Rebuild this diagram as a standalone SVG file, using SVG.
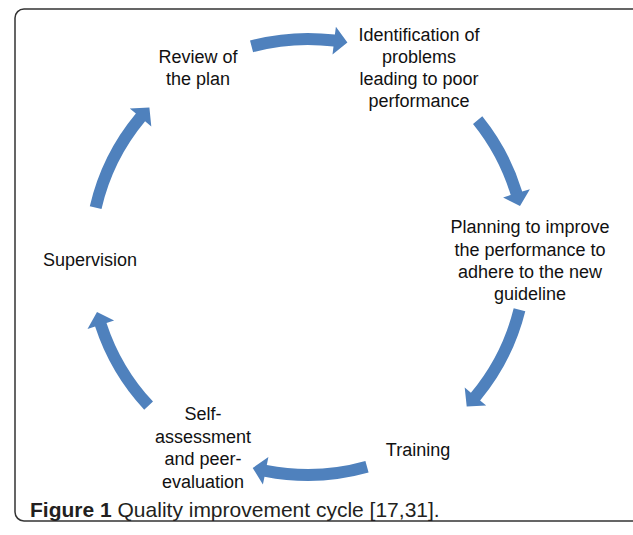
<svg xmlns="http://www.w3.org/2000/svg" width="633" height="535" viewBox="0 0 633 535">
<style>
.frame{fill:#fff;stroke:#333;stroke-width:1.5}
.arr{fill:#4F81BD;stroke:none}
.lbl{font-family:"Liberation Sans",Arial,sans-serif;font-size:18px;fill:#111;text-anchor:middle}
.cap{font-family:"Liberation Sans",Arial,sans-serif;font-size:21px;fill:#231f20}
.cap .b{font-weight:bold}
</style>
<rect x="0" y="0" width="633" height="535" fill="#fff"/>
<rect class="frame" x="15" y="9" width="640" height="512" rx="9"/>
<g id="connectors">
<path class="arr" d="M250.0 40.6 A224 224 0 0 1 334.9 34.6 L335.9 26.7 L347.4 42.6 L332.5 54.5 L333.5 46.5 A212 212 0 0 0 253.1 52.2 Z"/>
<path class="arr" d="M482.3 116.3 A224 224 0 0 1 522.2 191.5 L529.9 189.2 L520.0 206.1 L503.1 197.4 L510.7 195.0 A212 212 0 0 0 473.0 123.9 Z"/>
<path class="arr" d="M525.3 311.2 A224 224 0 0 1 480.1 400.4 L486.2 405.5 L466.7 406.5 L464.7 387.6 L470.9 392.7 A212 212 0 0 0 513.7 308.3 Z"/>
<path class="arr" d="M368.6 472.6 A224 224 0 0 1 264.5 476.7 L262.9 484.6 L252.7 467.9 L268.4 457.1 L266.8 465.0 A212 212 0 0 0 365.4 461.1 Z"/>
<path class="arr" d="M144.2 409.8 A224 224 0 0 1 95.1 326.6 L87.5 329.1 L97.0 312.0 L114.1 320.4 L106.5 322.9 A212 212 0 0 0 153.0 401.6 Z"/>
<path class="arr" d="M89.8 206.2 A224 224 0 0 1 135.9 113.6 L129.8 108.5 L149.4 107.5 L151.3 126.4 L145.1 121.3 A212 212 0 0 0 101.5 209.0 Z"/>
</g>
<g id="node-identification">
<text class="lbl" x="419" y="41">Identification of</text>
<text class="lbl" x="419" y="63">problems</text>
<text class="lbl" x="419" y="85">leading to poor</text>
<text class="lbl" x="419" y="107">performance</text>
</g>
<g id="node-planning">
<text class="lbl" x="530" y="233">Planning to improve</text>
<text class="lbl" x="530" y="256">the performance to</text>
<text class="lbl" x="530" y="278">adhere to  the new</text>
<text class="lbl" x="530" y="300">guideline</text>
</g>
<g id="node-training">
<text class="lbl" x="418" y="456">Training</text>
</g>
<g id="node-self">
<text class="lbl" x="203" y="420">Self-</text>
<text class="lbl" x="203" y="443">assessment</text>
<text class="lbl" x="203" y="465">and peer-</text>
<text class="lbl" x="203" y="488">evaluation</text>
</g>
<g id="node-supervision">
<text class="lbl" x="90" y="266">Supervision</text>
</g>
<g id="node-review">
<text class="lbl" x="198" y="63">Review of</text>
<text class="lbl" x="198" y="85">the plan</text>
</g>
<text class="cap" x="30" y="517"><tspan class="b">Figure 1</tspan> Quality improvement cycle [17,31].</text>
</svg>
